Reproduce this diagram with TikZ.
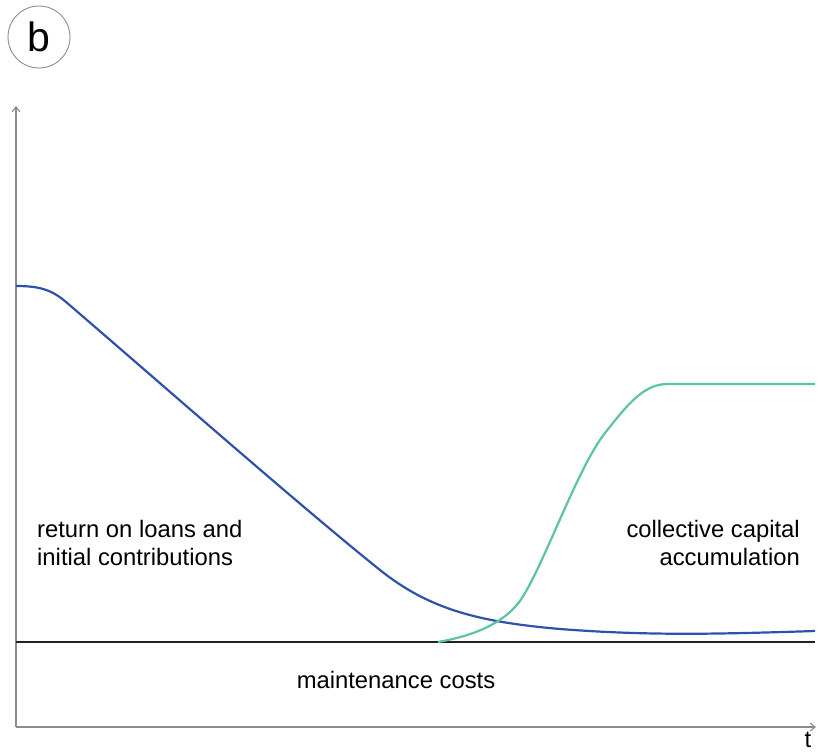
\documentclass[tikz,border=0pt]{standalone}
\usepackage{fontspec}
\setmainfont{Liberation Sans}
\usetikzlibrary{arrows.meta}
\definecolor{curveblue}{RGB}{46,82,170}
\definecolor{curvegreen}{RGB}{92,196,158}
\definecolor{axisgray}{RGB}{140,140,140}
\definecolor{basegray}{RGB}{34,34,34}
\tikzset{
  axisline/.style={draw=axisgray, line width=1.1pt, -{Straight Barb[length=5pt,width=8pt]}},
  label/.style={font=\fontsize{23.8}{28}\selectfont, inner sep=0pt, text=black},
}
\begin{document}
\begin{tikzpicture}[x=1pt,y=-1pt]
\useasboundingbox (0,0) rectangle (827,752);
% panel badge
\node[circle, draw=axisgray, line width=0.9pt, minimum size=62pt, inner sep=0pt, font=\fontsize{41}{41}\selectfont] (badge) at (39,37) {b};
% axes
\coordinate (origin) at (16,727);
\coordinate (ytop) at (16,106);
\coordinate (xend) at (816,727);
\draw[axisline] (origin) -- (ytop);
\draw[axisline] (origin) -- (xend);
\node[label, anchor=base] (tlabel) at (808,747) {t};
% maintenance baseline
\coordinate (bl) at (16,642);
\coordinate (br) at (815,642);
\draw[basegray, line width=1.8pt] (bl) -- (br);
% blue curve
\draw[curveblue, line width=2.2pt, line join=round]
  (16,286) .. controls (40,286) and (52,290) .. (66,302)
  .. controls (150,374) and (300,506) .. (380,570)
  .. controls (430,610) and (480,622) .. (560,629)
  .. controls (650,636) and (720,634) .. (815,631);
% green curve
\draw[curvegreen, line width=2.2pt, line join=round]
  (438,642) .. controls (472,636) and (505,624) .. (522,598)
  .. controls (545,562) and (578,467) .. (605,433)
  .. controls (630,401) and (645,384) .. (668,384)
  -- (815,384);
% labels
\node[label, anchor=base west, align=left] (ret) at (37,565) {return on loans and\\initial contributions};
\node[label, anchor=base east, align=right] (coll) at (800,565) {collective capital\\accumulation};
\node[label, anchor=base] (maint) at (396,688) {maintenance costs};
\end{tikzpicture}
\end{document}
